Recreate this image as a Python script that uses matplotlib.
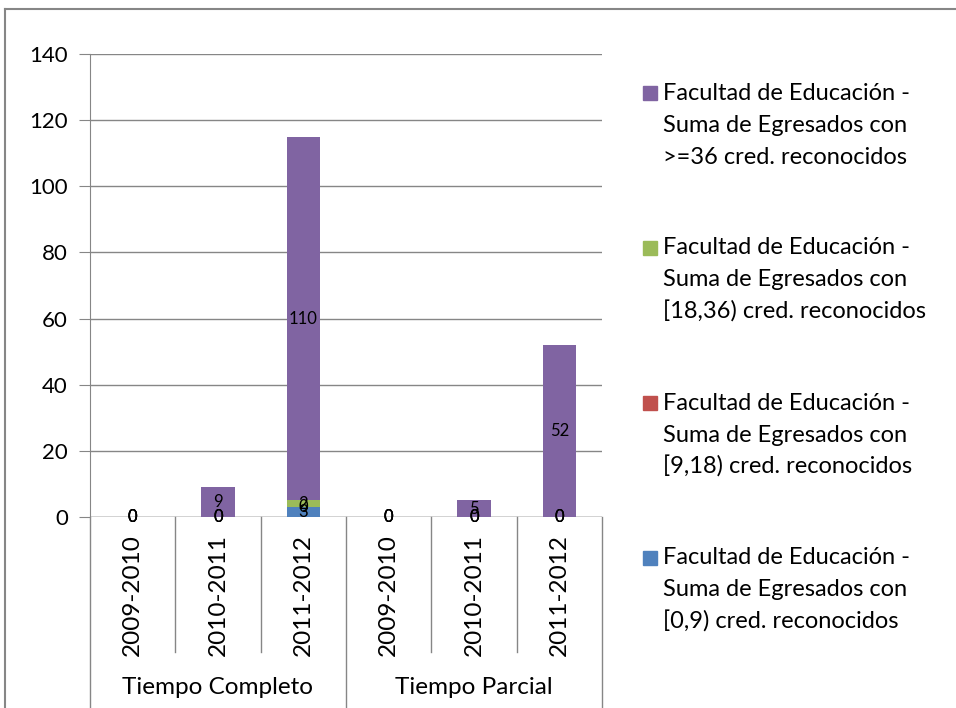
import numpy as np
import matplotlib.pyplot as plt
from matplotlib.lines import Line2D
from matplotlib.patches import Rectangle

plt.rcParams['font.family'] = ['Lato', 'DejaVu Sans']

years = ['2009-2010', '2010-2011', '2011-2012', '2009-2010', '2010-2011', '2011-2012']
groups = ['Tiempo Completo', 'Tiempo Parcial']
series_names = [
    'Facultad de Educación -\nSuma de Egresados con\n[0,9) cred. reconocidos',
    'Facultad de Educación -\nSuma de Egresados con\n[9,18) cred. reconocidos',
    'Facultad de Educación -\nSuma de Egresados con\n[18,36) cred. reconocidos',
    'Facultad de Educación -\nSuma de Egresados con\n>=36 cred. reconocidos',
]
cred_0_9 = [0, 0, 3, 0, 0, 0]
cred_9_18 = [0, 0, 0, 0, 0, 0]
cred_18_36 = [0, 0, 2, 0, 0, 0]
cred_36 = [0, 9, 110, 0, 5, 52]
colors = ['#4F81BD', '#C0504D', '#9BBB59', '#8064A2']

W, H = 956, 708
fig = plt.figure(figsize=(W / 100, H / 100), dpi=100)
ax = fig.add_axes([90 / W, (H - 517) / H, 512 / W, 463 / H])

x = np.arange(len(years))
bottom = np.zeros(len(years))
for vals, col, name in zip([cred_0_9, cred_9_18, cred_18_36, cred_36], colors, series_names):
    vals = np.array(vals, dtype=float)
    ax.bar(x, vals, width=0.39, bottom=bottom, color=col, label=name, zorder=3)
    for xi, v, bt in zip(x, vals, bottom):
        ax.text(xi, bt + v / 2, '%d' % v, ha='center', va='center', fontsize=12,
                color='black', zorder=4)
    bottom += vals

ax.set_xlim(-0.5, len(years) - 0.5)
ax.set_ylim(0, 140)
ax.set_yticks(range(0, 141, 20))
ax.yaxis.grid(True, color='#868686', linewidth=1, zorder=0)
ax.tick_params(axis='y', length=8, color='#868686', labelsize=16, pad=8)
ax.tick_params(axis='x', length=0, labelbottom=False)
for s in ['top', 'right', 'bottom']:
    ax.spines[s].set_visible(False)
ax.spines['left'].set_color('#868686')
ax.spines['left'].set_bounds(0, 140)

trans = ax.get_xaxis_transform()
# category labels and separators
for xi, lab in zip(x, years):
    ax.text(xi, -0.036, lab, rotation=90, ha='center', va='top', fontsize=17.5,
            transform=trans)
for i in range(len(years) + 1):
    xb = i - 0.5
    y_end = -0.42 if i % 3 == 0 else -0.292
    ax.add_line(Line2D([xb, xb], [0, y_end], color='#868686', linewidth=1,
                       transform=trans, clip_on=False))
ax.axhline(0, color='#868686', linewidth=1, zorder=2)
for gi, g in enumerate(groups):
    ax.text(gi * 3 + 1, -0.369, g, ha='center', va='center', fontsize=17.5,
            transform=trans)

# legend, drawn by hand so the marker sits on the first line
for k, (name, col) in enumerate(zip(series_names[::-1], colors[::-1])):
    y0 = 93 + 155 * k
    fig.patches.append(Rectangle((643 / W, 1 - (y0 + 7) / H), 14 / W, 14 / H,
                                 transform=fig.transFigure, color=col))
    for j, line in enumerate(name.split('\n')):
        fig.text(663 / W, 1 - (y0 + 32 * j) / H, line, ha='left', va='center',
                 fontsize=17)

# figure border
fig.add_artist(Line2D([5 / W, 5 / W], [0, 1 - 9 / H], color='#868686',
                      linewidth=1.5, transform=fig.transFigure))
fig.add_artist(Line2D([5 / W, 1], [1 - 9 / H, 1 - 9 / H], color='#868686',
                      linewidth=1.5, transform=fig.transFigure))

fig.savefig('out.png', dpi=100)
